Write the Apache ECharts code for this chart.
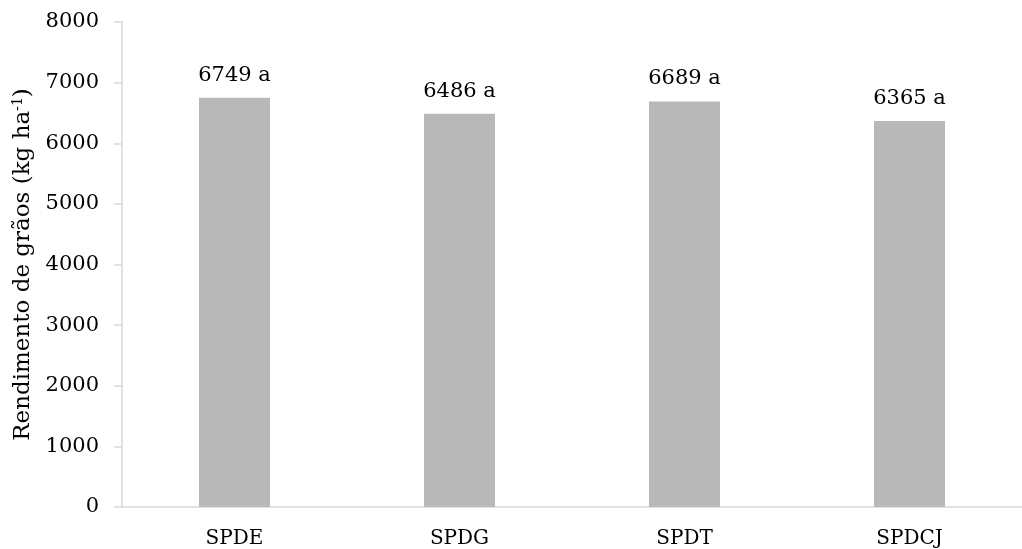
<!DOCTYPE html>
<html>
<head>
<meta charset="utf-8">
<script src="https://cdn.jsdelivr.net/npm/echarts@6/dist/echarts.min.js"></script>
<style>
html,body{margin:0;padding:0;background:#fff;}
#chart{width:1022px;height:549px;}
</style>
</head>
<body>
<div id="chart"></div>
<script>
const categories = ['SPDE', 'SPDG', 'SPDT', 'SPDCJ'];
const values = [6749, 6486, 6689, 6365];
const letters = ['a', 'a', 'a', 'a'];
const yMin = 0, yMax = 8000, yInterval = 1000;

const FONT = 'DejaVu Serif';
const chart = echarts.init(document.getElementById('chart'));
chart.setOption({
  backgroundColor: '#ffffff',
  animation: false,
  grid: { left: 122, right: -7, top: 22, bottom: 41.5 },
  xAxis: {
    type: 'category',
    data: categories,
    axisLine: { show: true, lineStyle: { color: '#d9d9d9', width: 1.5 } },
    axisTick: { show: false },
    axisLabel: { color: '#000', fontFamily: FONT, fontSize: 20, margin: 22 }
  },
  yAxis: {
    type: 'value',
    min: yMin, max: yMax, interval: yInterval,
    name: '{a|Rendimento de grãos (kg ha}{s|-1}{a|)}',
    nameLocation: 'middle',
    nameGap: 81,
    nameTextStyle: {
      rich: {
        a: { fontFamily: FONT, fontSize: 23, color: '#000' },
        s: { fontFamily: FONT, fontSize: 14, color: '#000', padding: [0, 0, 10, 0] }
      }
    },
    axisLine: { show: true, lineStyle: { color: '#d9d9d9', width: 1.5 } },
    axisTick: { show: true, length: 8, lineStyle: { color: '#d9d9d9', width: 1.5 } },
    splitLine: { show: false },
    axisLabel: { color: '#000', fontFamily: FONT, fontSize: 21, margin: 23, formatter: v => String(v) }
  },
  series: [{
    type: 'bar',
    data: values,
    barWidth: 71,
    itemStyle: { color: '#b8b8b8' },
    label: {
      show: true,
      position: 'top',
      distance: 12,
      color: '#000',
      fontFamily: FONT,
      fontSize: 21,
      formatter: p => p.value + ' ' + letters[p.dataIndex]
    }
  }]
});
</script>
</body>
</html>
